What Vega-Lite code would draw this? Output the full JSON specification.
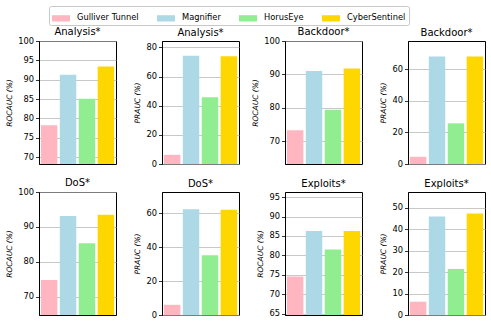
{
  "$schema": "https://vega.github.io/schema/vega-lite/v6.json",
  "background": "white",
  "padding": {"left": 5, "top": 5, "right": 4, "bottom": 5},
  "bounds": "flush",
  "columns": 4,
  "spacing": {"row": 28, "column": 46},
  "data": {"values": [
    {"panel": "A_ROC", "model": "Gulliver Tunnel", "value": 78.2},
    {"panel": "A_ROC", "model": "Magnifier", "value": 91.3},
    {"panel": "A_ROC", "model": "HorusEye", "value": 85.1},
    {"panel": "A_ROC", "model": "CyberSentinel", "value": 93.4},
    {"panel": "A_PR", "model": "Gulliver Tunnel", "value": 6.3},
    {"panel": "A_PR", "model": "Magnifier", "value": 74.3},
    {"panel": "A_PR", "model": "HorusEye", "value": 45.8},
    {"panel": "A_PR", "model": "CyberSentinel", "value": 74.0},
    {"panel": "B_ROC", "model": "Gulliver Tunnel", "value": 73.3},
    {"panel": "B_ROC", "model": "Magnifier", "value": 91.0},
    {"panel": "B_ROC", "model": "HorusEye", "value": 79.4},
    {"panel": "B_ROC", "model": "CyberSentinel", "value": 91.8},
    {"panel": "B_PR", "model": "Gulliver Tunnel", "value": 4.6},
    {"panel": "B_PR", "model": "Magnifier", "value": 68.1},
    {"panel": "B_PR", "model": "HorusEye", "value": 25.8},
    {"panel": "B_PR", "model": "CyberSentinel", "value": 68.2},
    {"panel": "D_ROC", "model": "Gulliver Tunnel", "value": 74.8},
    {"panel": "D_ROC", "model": "Magnifier", "value": 93.1},
    {"panel": "D_ROC", "model": "HorusEye", "value": 85.3},
    {"panel": "D_ROC", "model": "CyberSentinel", "value": 93.5},
    {"panel": "D_PR", "model": "Gulliver Tunnel", "value": 6.0},
    {"panel": "D_PR", "model": "Magnifier", "value": 62.3},
    {"panel": "D_PR", "model": "HorusEye", "value": 35.2},
    {"panel": "D_PR", "model": "CyberSentinel", "value": 62.0},
    {"panel": "E_ROC", "model": "Gulliver Tunnel", "value": 74.6},
    {"panel": "E_ROC", "model": "Magnifier", "value": 86.3},
    {"panel": "E_ROC", "model": "HorusEye", "value": 81.5},
    {"panel": "E_ROC", "model": "CyberSentinel", "value": 86.3},
    {"panel": "E_PR", "model": "Gulliver Tunnel", "value": 6.2},
    {"panel": "E_PR", "model": "Magnifier", "value": 46.0},
    {"panel": "E_PR", "model": "HorusEye", "value": 21.5},
    {"panel": "E_PR", "model": "CyberSentinel", "value": 47.4}
  ]},
  "concat": [
    {
      "width": 77, "height": 123, "title": {"text": "Analysis*", "fontWeight": "normal", "fontSize": 10, "offset": -1.3},
      "transform": [{"filter": "datum.panel === 'A_ROC'"}],
      "mark": {"type": "bar", "clip": true},
      "encoding": {
        "x": {"field": "model", "type": "nominal", "sort": ["Gulliver Tunnel", "Magnifier", "HorusEye", "CyberSentinel"], "axis": null, "scale": {"paddingInner": 0.13, "paddingOuter": 0.1}},
        "y": {"field": "value", "type": "quantitative", "scale": {"domain": [68.2, 100], "nice": false, "zero": false}, "axis": {"values": [70, 75, 80, 85, 90, 95, 100], "title": "ROCAUC (%)"}},
        "color": {"field": "model", "type": "nominal", "sort": ["Gulliver Tunnel", "Magnifier", "HorusEye", "CyberSentinel"], "scale": {"domain": ["Gulliver Tunnel", "Magnifier", "HorusEye", "CyberSentinel"], "range": ["#FFB6C1", "#ADD8E6", "#90EE90", "#FFD700"]}, "legend": {"orient": "none", "legendX": 10, "legendY": -35, "direction": "horizontal", "title": null}}
      }
    },
    {
      "width": 77, "height": 123, "title": {"text": "Analysis*", "fontWeight": "normal", "fontSize": 10, "offset": 2.8},
      "transform": [{"filter": "datum.panel === 'A_PR'"}],
      "mark": {"type": "bar", "clip": true},
      "encoding": {
        "x": {"field": "model", "type": "nominal", "sort": ["Gulliver Tunnel", "Magnifier", "HorusEye", "CyberSentinel"], "axis": null, "scale": {"paddingInner": 0.13, "paddingOuter": 0.1}},
        "y": {"field": "value", "type": "quantitative", "scale": {"domain": [0, 84.4], "nice": false}, "axis": {"values": [0, 20, 40, 60, 80], "title": "PRAUC (%)"}},
        "color": {"field": "model", "type": "nominal"}
      }
    },
    {
      "width": 77, "height": 123, "title": {"text": "Backdoor*", "fontWeight": "normal", "fontSize": 10, "offset": -1.3},
      "transform": [{"filter": "datum.panel === 'B_ROC'"}],
      "mark": {"type": "bar", "clip": true},
      "encoding": {
        "x": {"field": "model", "type": "nominal", "sort": ["Gulliver Tunnel", "Magnifier", "HorusEye", "CyberSentinel"], "axis": null, "scale": {"paddingInner": 0.13, "paddingOuter": 0.1}},
        "y": {"field": "value", "type": "quantitative", "scale": {"domain": [63.2, 100], "nice": false, "zero": false}, "axis": {"values": [70, 80, 90, 100], "title": "ROCAUC (%)"}},
        "color": {"field": "model", "type": "nominal"}
      }
    },
    {
      "width": 77, "height": 123, "title": {"text": "Backdoor*", "fontWeight": "normal", "fontSize": 10, "offset": 2.8},
      "transform": [{"filter": "datum.panel === 'B_PR'"}],
      "mark": {"type": "bar", "clip": true},
      "encoding": {
        "x": {"field": "model", "type": "nominal", "sort": ["Gulliver Tunnel", "Magnifier", "HorusEye", "CyberSentinel"], "axis": null, "scale": {"paddingInner": 0.13, "paddingOuter": 0.1}},
        "y": {"field": "value", "type": "quantitative", "scale": {"domain": [0, 78], "nice": false}, "axis": {"values": [0, 20, 40, 60], "title": "PRAUC (%)"}},
        "color": {"field": "model", "type": "nominal"}
      }
    },
    {
      "width": 77, "height": 123, "title": {"text": "DoS*", "fontWeight": "normal", "fontSize": 10, "offset": -1.3},
      "transform": [{"filter": "datum.panel === 'D_ROC'"}],
      "mark": {"type": "bar", "clip": true},
      "encoding": {
        "x": {"field": "model", "type": "nominal", "sort": ["Gulliver Tunnel", "Magnifier", "HorusEye", "CyberSentinel"], "axis": null, "scale": {"paddingInner": 0.13, "paddingOuter": 0.1}},
        "y": {"field": "value", "type": "quantitative", "scale": {"domain": [64.8, 100], "nice": false, "zero": false}, "axis": {"values": [70, 80, 90, 100], "title": "ROCAUC (%)"}},
        "color": {"field": "model", "type": "nominal"}
      }
    },
    {
      "width": 77, "height": 123, "title": {"text": "DoS*", "fontWeight": "normal", "fontSize": 10, "offset": 2.8},
      "transform": [{"filter": "datum.panel === 'D_PR'"}],
      "mark": {"type": "bar", "clip": true},
      "encoding": {
        "x": {"field": "model", "type": "nominal", "sort": ["Gulliver Tunnel", "Magnifier", "HorusEye", "CyberSentinel"], "axis": null, "scale": {"paddingInner": 0.13, "paddingOuter": 0.1}},
        "y": {"field": "value", "type": "quantitative", "scale": {"domain": [0, 72.4], "nice": false}, "axis": {"values": [0, 20, 40, 60], "title": "PRAUC (%)"}},
        "color": {"field": "model", "type": "nominal"}
      }
    },
    {
      "width": 77, "height": 123, "title": {"text": "Exploits*", "fontWeight": "normal", "fontSize": 10, "offset": 2.8},
      "transform": [{"filter": "datum.panel === 'E_ROC'"}],
      "mark": {"type": "bar", "clip": true},
      "encoding": {
        "x": {"field": "model", "type": "nominal", "sort": ["Gulliver Tunnel", "Magnifier", "HorusEye", "CyberSentinel"], "axis": null, "scale": {"paddingInner": 0.13, "paddingOuter": 0.1}},
        "y": {"field": "value", "type": "quantitative", "scale": {"domain": [64.7, 96.3], "nice": false, "zero": false}, "axis": {"values": [65, 70, 75, 80, 85, 90, 95], "title": "ROCAUC (%)"}},
        "color": {"field": "model", "type": "nominal"}
      }
    },
    {
      "width": 77, "height": 123, "title": {"text": "Exploits*", "fontWeight": "normal", "fontSize": 10, "offset": 2.8},
      "transform": [{"filter": "datum.panel === 'E_PR'"}],
      "mark": {"type": "bar", "clip": true},
      "encoding": {
        "x": {"field": "model", "type": "nominal", "sort": ["Gulliver Tunnel", "Magnifier", "HorusEye", "CyberSentinel"], "axis": null, "scale": {"paddingInner": 0.13, "paddingOuter": 0.1}},
        "y": {"field": "value", "type": "quantitative", "scale": {"domain": [0, 57.4], "nice": false}, "axis": {"values": [0, 10, 20, 30, 40, 50], "title": "PRAUC (%)"}},
        "color": {"field": "model", "type": "nominal"}
      }
    }
  ],
  "config": {
    "font": "DejaVu Sans",
    "view": {"stroke": "black", "strokeWidth": 1},
    "axis": {
      "labelFontSize": 8.3, "labelColor": "black", "labelPadding": 2,
      "tickColor": "black", "tickSize": 3.5, "tickWidth": 0.8,
      "domainColor": "black", "domainWidth": 1,
      "titleFontSize": 7.5, "titleFontWeight": "normal", "titleColor": "black", "titleFontStyle": "italic", "titlePadding": 4,
      "gridColor": "#b0b0b0", "gridWidth": 1.2, "gridOpacity": 0.7, "zindex": 1
    },
    "title": {"fontSize": 10, "fontWeight": "normal", "color": "black"},
    "legend": {
      "symbolType": "M-1,-0.35H1V0.35H-1Z", "symbolSize": 324, "symbolStrokeWidth": 0,
      "labelFontSize": 8.3, "labelColor": "black", "columnPadding": 18, "labelOffset": 7,
      "padding": 3, "strokeColor": "#c8c8c8", "cornerRadius": 2, "fillColor": "white"
    }
  }
}
